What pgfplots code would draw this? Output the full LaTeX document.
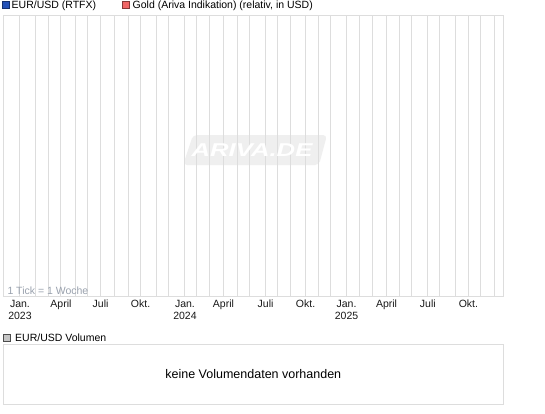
\documentclass[border=0pt]{standalone}
\usepackage{fontspec}
\setmainfont{Liberation Sans}
\usepackage{pgfplots}
\pgfplotsset{compat=1.18}

\definecolor{gridgray}{HTML}{DDDDDD}
\definecolor{wmgray}{HTML}{EFEFEF}
\definecolor{eurblue}{HTML}{2452B8}
\definecolor{goldred}{HTML}{F06666}
\definecolor{tickinfo}{HTML}{9AA2AE}

\begin{document}
\begin{tikzpicture}[x=1pt,y=1pt]
\fill[white] (0,0) rectangle (545,413);

% watermark plate
\fill[wmgray, rounded corners=4pt] (193,278) -- (327,278) -- (319,248) -- (183,248) -- cycle;

% main panel, x in weeks from 2 Jan 2023
\begin{axis}[
    at={(3.3pt,116.3pt)}, anchor=south west,
    scale only axis, width=500pt, height=280.7pt,
    xmin=-5.34, xmax=154.66, ymin=0, ymax=1,
    ytick=\empty,
    xtick={0,5.0,9.1,13.1,17.9,21.7,25.8,30.1,34.7,38.6,43.7,47.5,
           52.8,56.5,60.6,65.1,69.7,73.6,78.6,82.5,86.6,91.4,95.5,99.4,
           104.5,108.5,112.7,117.3,121.4,125.3,130.5,134.4,139.4,143.5,147.5,152},
    xticklabels={{Jan.\\2023},,,April,,,Juli,,,Okt.,,,
                 {Jan.\\2024},,,April,,,Juli,,,Okt.,,,
                 {Jan.\\2025},,,April,,,Juli,,,Okt.,,},
    xmajorgrids,
    major grid style={gridgray, line width=1pt},
    axis line style={gridgray, line width=1pt},
    major tick length=0pt,
    xticklabel style={font=\fontsize{10.5}{12.5}\selectfont, align=center,
                      anchor=north, inner sep=0pt, yshift=-3pt, text=black!90},
]
\end{axis}

% watermark text
\node[text=white, font=\fontsize{18.6}{20}\selectfont\bfseries\itshape]
    at (252,263) {\scalebox{1.38}[1]{ARIVA.DE}};

\node[anchor=base west, inner sep=0pt, text=tickinfo,
      font=\fontsize{10.5}{12}\selectfont] at (7.3,118.7) {1 Tick = 1 Woche};

% legend top
\filldraw[fill=eurblue, draw=eurblue!60!black] (1.7,404.7) rectangle (9,411.3);
\node[anchor=base west, inner sep=0pt, font=\fontsize{10.5}{12}\selectfont]
    at (11.5,404) {EUR/USD (RTFX)};
\filldraw[fill=goldred, draw=goldred!55!black] (121.7,404.7) rectangle (129,411.3);
\node[anchor=base west, inner sep=0pt, font=\fontsize{10.5}{12}\selectfont]
    at (132.5,404) {Gold (Ariva Indikation) (relativ, in USD)};

% volume panel
\filldraw[fill=gray!45, draw=black!70] (3.3,72) rectangle (10.3,79);
\node[anchor=base west, inner sep=0pt, font=\fontsize{10.5}{12}\selectfont]
    at (15,71.3) {EUR/USD Volumen};
\begin{axis}[
    at={(3.3pt,8.5pt)}, anchor=south west,
    scale only axis, width=500pt, height=60.5pt,
    xmin=0, xmax=1, ymin=0, ymax=1,
    xtick=\empty, ytick=\empty,
    axis line style={gridgray, line width=1pt},
]
\node[font=\fontsize{12.5}{14}\selectfont] at (rel axis cs:0.5,0.5)
    {keine Volumendaten vorhanden};
\end{axis}
\end{tikzpicture}
\end{document}
